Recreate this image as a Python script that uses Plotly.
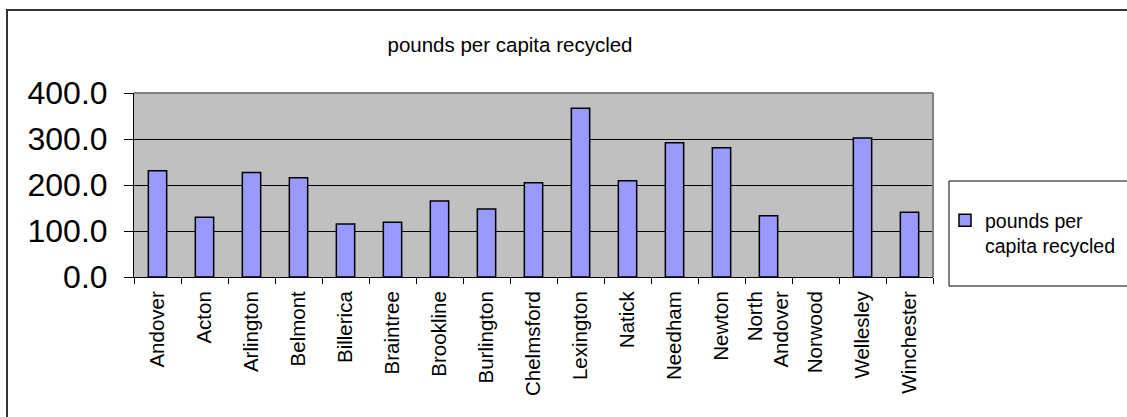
import plotly.graph_objects as go

towns = ["Andover", "Acton", "Arlington", "Belmont", "Billerica", "Braintree",
         "Brookline", "Burlington", "Chelmsford", "Lexington", "Natick", "Needham",
         "Newton", "North<br>Andover", "Norwood", "Wellesley", "Winchester"]
pounds_per_capita = [231, 130, 227, 216, 115, 119, 165, 148, 205, 367, 209, 292,
                     281, 133, None, 302, 141]
y_ticks = [0, 100, 200, 300, 400]

W, H = 1127, 417
L, R, T, B = 134, 933, 93, 277
pw, ph = R - L, B - T

def px(x):
    return (x - L) / pw

def py(y):
    return (B - y) / ph

FONT = "Arial, Liberation Sans, sans-serif"

fig = go.Figure()
fig.add_trace(go.Bar(
    x=towns, y=pounds_per_capita, name="pounds per<br>capita recycled",
    marker=dict(color="#9999FF", line=dict(color="black", width=1.5)),
))

fig.update_layout(
    width=W, height=H,
    margin=dict(l=L, r=W - R, t=T, b=H - B, pad=0, autoexpand=False),
    paper_bgcolor="white", plot_bgcolor="#C0C0C0",
    bargap=0.61,
    font=dict(family=FONT, color="black"),
    title=dict(text="pounds per capita recycled", x=510 / W, xref="container",
               xanchor="center", y=1 - 45 / H, yanchor="middle",
               font=dict(size=20.5, family=FONT, color="black")),
    showlegend=True,
    legend=dict(x=px(945), y=py(201), xanchor="left", yanchor="top",
                font=dict(size=19.5, family=FONT, color="black"),
                bgcolor="rgba(0,0,0,0)", borderwidth=0, valign="top",
                itemwidth=30, tracegroupgap=0),
    xaxis=dict(type="category", tickangle=-90, tickson="boundaries",
               ticks="outside", ticklen=6, tickcolor="black", tickwidth=1,
               ticklabelstandoff=5,
               showline=True, linecolor="black", linewidth=1,
               tickfont=dict(size=20.5, family=FONT, color="black"),
               showgrid=False, zeroline=False),
    yaxis=dict(range=[0, 400], tickvals=y_ticks, tickformat=".1f",
               ticks="outside", ticklen=9, tickcolor="black", tickwidth=1,
               ticklabelstandoff=10,
               showline=True, linecolor="black", linewidth=1,
               showgrid=True, gridcolor="black", gridwidth=1,
               tickfont=dict(size=32, family=FONT, color="black"),
               zeroline=False),
    shapes=[
        dict(type="line", xref="paper", yref="paper", x0=0, x1=1, y0=1, y1=1,
             line=dict(color="#808080", width=2), layer="above"),
        dict(type="line", xref="paper", yref="paper", x0=1, x1=1, y0=0, y1=1,
             line=dict(color="#808080", width=2), layer="above"),
        dict(type="rect", xref="paper", yref="paper",
             x0=px(949), x1=px(1140), y0=py(286), y1=py(181),
             line=dict(color="black", width=1), layer="above"),
        dict(type="rect", xref="paper", yref="paper",
             x0=px(7), x1=px(1140), y0=py(430), y1=py(10),
             line=dict(color="#333333", width=2), layer="above"),
    ],
)

fig.write_html("out.html")
